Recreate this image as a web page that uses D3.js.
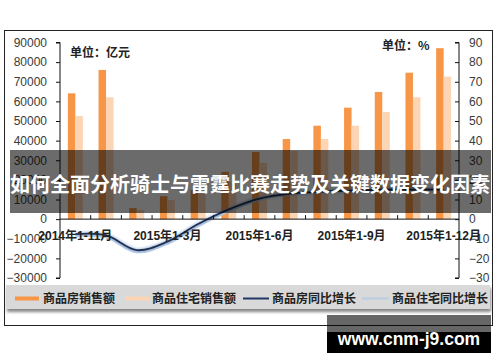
<!DOCTYPE html>
<html><head><meta charset="utf-8">
<script src="https://cdn.jsdelivr.net/npm/d3@7/dist/d3.min.js"></script>
<style>
html,body{margin:0;padding:0;background:#fff;}
svg{display:block;}
</style></head>
<body>
<svg id="chart" width="500" height="362"></svg>
<script>
const categories = ["2014年1-11月","2014年1-12月","2015年1-2月","2015年1-3月","2015年1-4月","2015年1-5月","2015年1-6月","2015年1-7月","2015年1-8月","2015年1-9月","2015年1-10月","2015年1-11月","2015年1-12月"];
const shownLabels = ["2014年1-11月","2015年1-3月","2015年1-6月","2015年1-9月","2015年1-12月"];
const salesAll = [64100, 76000, 5600, 11700, 14800, 24100, 34200, 40800, 47600, 56800, 64800, 74600, 87100];
const salesRes = [52500, 62100, 4700, 9700, 13000, 19000, 28700, 34800, 40800, 47600, 54600, 62100, 72600];
const growthAll = [-7.6, -8.2, -15.8, -11.5, -2.5, 5, 10.5, 13, 14, 14.5, 15, 15, 15];
const growthRes = [-8.6, -9.2, -16.8, -12.5, -3.5, 4, 10, 12.8, 14, 14.5, 15, 15.2, 15.5];
const leftTicks = [90000,80000,70000,60000,50000,40000,30000,20000,10000,0,-10000,-20000,-30000];
const rightTicks = [90,80,70,60,50,40,30,20,10,0,-10,-20,-30];
const seriesNames = ["商品房销售额","商品住宅销售额","商品房同比增长","商品住宅同比增长"];
const titleText = "如何全面分析骑士与雷霆比赛走势及关键数据变化因素";
const watermark = "www.cnm-j9.com";

const svg = d3.select("#chart");
const defs = svg.append("defs");
const f = defs.append("filter").attr("id","sh").attr("x","-5%").attr("y","-30%").attr("width","110%").attr("height","180%");
f.append("feDropShadow").attr("dx",1).attr("dy",3).attr("stdDeviation",1.5).attr("flood-color","#555").attr("flood-opacity",0.7);
const g2 = defs.append("filter").attr("id","glow").attr("x","-10%").attr("y","-50%").attr("width","120%").attr("height","200%");
g2.append("feGaussianBlur").attr("stdDeviation",1.2);

// frame
svg.append("rect").attr("x",4.5).attr("y",30.5).attr("width",488).attr("height",295)
  .attr("fill","#fff").attr("stroke","#222").attr("stroke-width",1);

const x = d3.scaleBand().domain(categories).range([60,459]).padding(0);
const yL = d3.scaleLinear().domain([-30000,90000]).range([278,42.5]);
const yR = d3.scaleLinear().domain([-30,90]).range([278,42.5]);
const bw = 7.5;

// bars
svg.append("g").selectAll("rect").data(categories).join("rect")
  .attr("x",d=>x(d)+x.bandwidth()/2-bw).attr("width",bw)
  .attr("y",(d,i)=>yL(salesAll[i])).attr("height",(d,i)=>yL(0)-yL(salesAll[i]))
  .attr("fill","#f79646");
svg.append("g").selectAll("rect").data(categories).join("rect")
  .attr("x",d=>x(d)+x.bandwidth()/2).attr("width",bw)
  .attr("y",(d,i)=>yL(salesRes[i])).attr("height",(d,i)=>yL(0)-yL(salesRes[i]))
  .attr("fill","#fcd5b4");

// lines
const line = d3.line().x((d,i)=>x(categories[i])+x.bandwidth()/2).y(d=>yR(d)).curve(d3.curveCatmullRom.alpha(0.5));
svg.append("path").attr("d",line(growthRes)).attr("fill","none").attr("stroke","#b9cde5").attr("stroke-width",2.2);
svg.append("path").attr("d",line(growthAll)).attr("fill","none").attr("stroke","#8eaad6").attr("stroke-width",4).attr("opacity",0.6).attr("filter","url(#glow)");
svg.append("path").attr("d",line(growthAll)).attr("fill","none").attr("stroke","#1f3050").attr("stroke-width",1.8);

// axes
const axL = svg.append("g").attr("transform","translate(60,0)")
  .call(d3.axisLeft(yL).tickValues(leftTicks).tickSize(4).tickPadding(9).tickFormat(d3.format("d")));
const axR = svg.append("g").attr("transform","translate(459,0)")
  .call(d3.axisRight(yR).tickValues(rightTicks).tickSize(-4).tickPadding(10).tickFormat(d3.format("d")));
[axL,axR].forEach(a=>{
  a.select(".domain").attr("stroke","#111");
  a.selectAll(".tick line").attr("stroke","#111");
  a.selectAll("text").attr("font-family","'Liberation Sans', Arial, sans-serif").attr("font-size","12px").attr("fill","#3a3a3a");
});
axL.select(".domain").attr("d","M-4,42.5H0V278H-4");
axR.select(".domain").attr("d","M-4,42.5H0V278H-4");

// x axis
const axX = svg.append("g").attr("transform",`translate(0,${yL(0)})`)
  .call(d3.axisBottom(x).tickValues(shownLabels).tickSize(0).tickPadding(12));
axX.select(".domain").attr("stroke","#111").attr("d","M60,0H459");
axX.selectAll("text").attr("font-family","'Liberation Sans', Arial, 'Noto Sans CJK SC', sans-serif")
  .attr("font-size","12px").attr("font-weight","bold").attr("fill","#222");
axX.selectAll(".tick line").remove();
axX.selectAll("line.bd").data(categories.slice(1)).join("line").attr("class","bd")
  .attr("x1",d=>x(d)).attr("x2",d=>x(d)).attr("y1",0).attr("y2",-4).attr("stroke","#111");

// unit labels
svg.append("text").attr("x",70).attr("y",57).text("单位：亿元")
  .attr("font-family","'Noto Sans CJK SC', sans-serif").attr("font-size","12px").attr("font-weight","bold").attr("fill","#222");
svg.append("text").attr("x",382).attr("y",50).text("单位：%")
  .attr("font-family","'Noto Sans CJK SC', sans-serif").attr("font-size","12px").attr("font-weight","bold").attr("fill","#222");

// legend
svg.append("rect").attr("x",6).attr("y",285).attr("width",484).attr("height",24).attr("fill","#d9d9d9").attr("filter","url(#sh)");
const legX = [15,125,243,362];
const legTX = [43,152,272,392];
const lg = svg.append("g");
lg.append("rect").attr("x",legX[0]).attr("y",296.5).attr("width",24).attr("height",4).attr("fill","#f79646");
lg.append("rect").attr("x",legX[1]).attr("y",296.5).attr("width",24).attr("height",4).attr("fill","#fcd5b4");
lg.append("line").attr("x1",legX[2]).attr("x2",legX[2]+26).attr("y1",298.5).attr("y2",298.5).attr("stroke","#1f3864").attr("stroke-width",2);
lg.append("line").attr("x1",legX[3]).attr("x2",legX[3]+27).attr("y1",298.5).attr("y2",298.5).attr("stroke","#b9cde5").attr("stroke-width",2);
lg.selectAll("text").data(seriesNames).join("text")
  .attr("x",(d,i)=>legTX[i]).attr("y",303).text(d=>d)
  .attr("font-family","'Noto Sans CJK SC', sans-serif").attr("font-size","12px").attr("font-weight","bold").attr("fill","#222");

// banner overlay
svg.append("rect").attr("x",10).attr("y",150).attr("width",481).attr("height",63).attr("fill","rgba(0,0,0,0.58)");
svg.append("text").attr("x",250).attr("y",192).attr("text-anchor","middle").text(titleText)
  .attr("font-family","'Noto Sans CJK SC', sans-serif").attr("font-size","20px").attr("font-weight","bold").attr("fill","#fff");

// watermark
svg.append("rect").attr("x",327).attr("y",315).attr("width",164).attr("height",17).attr("fill","rgba(0,0,0,0.6)");
svg.append("rect").attr("x",327).attr("y",332).attr("width",164).attr("height",21).attr("fill","#000");
svg.append("text").attr("x",409).attr("y",345).attr("text-anchor","middle").text(watermark)
  .attr("font-family","'Liberation Sans', Arial, sans-serif").attr("font-size","17.5px").attr("font-weight","bold").attr("fill","#fff");
</script>
</body></html>
